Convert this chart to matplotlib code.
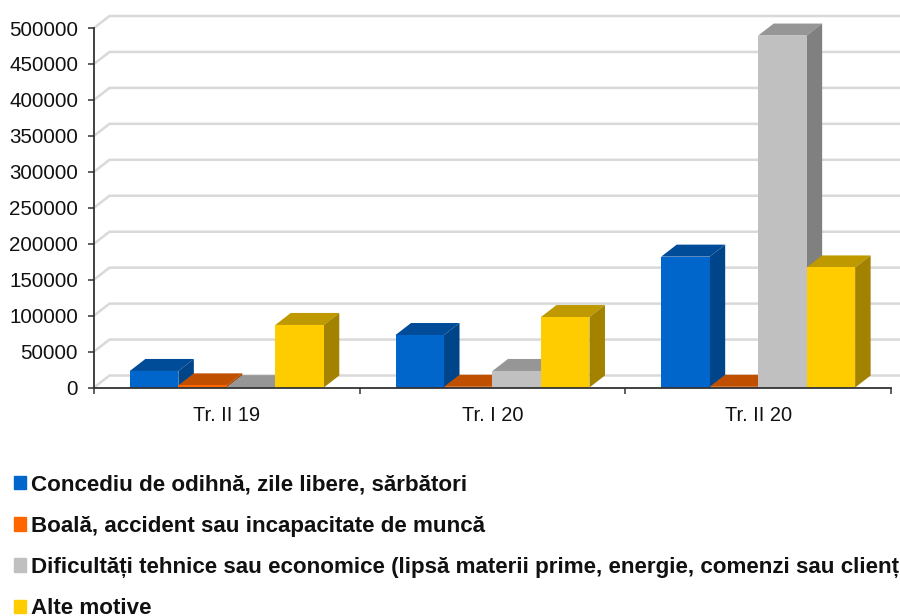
import numpy as np
import matplotlib
matplotlib.use("Agg")
import matplotlib.pyplot as plt
from matplotlib.patches import Patch

plt.rcParams['font.family'] = ['Liberation Sans', 'DejaVu Sans']

categories = ["Tr. II 19", "Tr. I 20", "Tr. II 20"]
series_names = [
    "Concediu de odihnă, zile libere, sărbători",
    "Boală, accident sau incapacitate de muncă",
    "Dificultăți tehnice sau economice (lipsă materii prime, energie, comenzi sau clienți)",
    "Alte motive",
]
concediu = [23000, 73000, 182000]
boala = [3000, 1000, 1000]
dificultati = [500, 23000, 489500]
alte = [87000, 98000, 167000]
yticks = [0, 50000, 100000, 150000, 200000, 250000, 300000, 350000, 400000, 450000, 500000]

front_colors = ["#0066CC", "#FF6600", "#C0C0C0", "#FFCC00"]
top_colors = ["#004C99", "#C05000", "#969696", "#BF9900"]
side_colors = ["#00458A", "#A84600", "#808080", "#A38200"]

W, H = 900, 616
left, right, top, bottom = 94, 891, 28, 387.5

fig = plt.figure(figsize=(W / 100, H / 100), dpi=100)
ax = fig.add_axes([left / W, 1 - bottom / H, (right - left) / W, (bottom - top) / H])
ax.set_xlim(0, 3)
ax.set_ylim(0, 500000)

# depth of the fake 3d box, pixels converted to data units
dx = 15.5 * 3 / (right - left)
dy = 12 * 500000 / (bottom - top)

for v in yticks:
    ax.plot([0, dx, 3.2], [v, v + dy, v + dy], color="#D9D9D9", lw=1.8,
            clip_on=False, zorder=1, solid_joinstyle="miter")

w = 0.1825
x = np.arange(3) + 0.5
all_series = [concediu, boala, dificultati, alte]

z = 2
for i, vals in enumerate(all_series):
    offs = x + (i - 2) * w
    for xi, v in zip(offs, vals):
        ax.bar(xi, v, w, align="edge", color=front_colors[i], zorder=z + 0.2, clip_on=False)
        ax.fill([xi, xi + dx, xi + w + dx, xi + w], [v, v + dy, v + dy, v],
                color=top_colors[i], lw=0, zorder=z, clip_on=False)
        ax.fill([xi + w, xi + w + dx, xi + w + dx, xi + w], [0, dy, v + dy, v],
                color=side_colors[i], lw=0, zorder=z + 0.1, clip_on=False)
    z += 1

for s in ["top", "right"]:
    ax.spines[s].set_visible(False)
for s in ["left", "bottom"]:
    ax.spines[s].set_color("#333333")
    ax.spines[s].set_linewidth(1.3)
    ax.spines[s].set_zorder(10)

ax.set_yticks(yticks)
ax.set_yticklabels([str(v) for v in yticks])
ax.set_xticks([0, 1, 2, 3])
ax.set_xticklabels([])
ax.set_xticks(x, minor=True)
ax.set_xticklabels(categories, minor=True)
ax.tick_params(axis="x", which="major", length=4, width=1.1, color="#333333")
ax.tick_params(axis="x", which="minor", length=0, labelsize=14.4, pad=13, labelcolor="#111111")
ax.tick_params(axis="y", length=4, width=1.1, color="#333333", labelsize=14.8, pad=7.5, labelcolor="#111111")

handles = [Patch(color=c) for c in front_colors]
fig.legend(handles, series_names, loc="upper left", bbox_to_anchor=(14 / W, 1 - 474.5 / H),
           bbox_transform=fig.transFigure, frameon=False, borderpad=0, borderaxespad=0,
           prop={"weight": "bold", "size": 16.1}, handlelength=0.55, handleheight=0.55,
           handletextpad=0.22, labelspacing=0.906, labelcolor="#111111")

fig.savefig("out.png", dpi=100)
